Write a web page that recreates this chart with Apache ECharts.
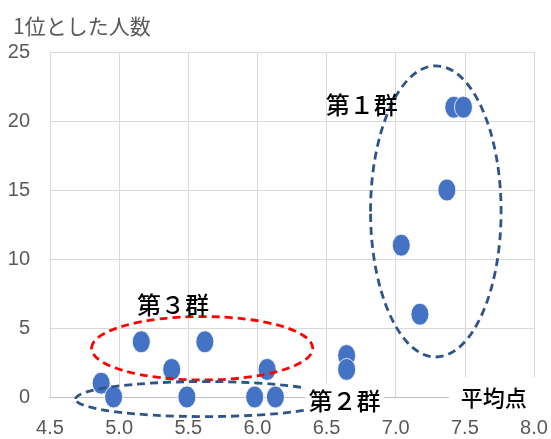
<!DOCTYPE html>
<html>
<head>
<meta charset="utf-8">
<script src="https://cdn.jsdelivr.net/npm/echarts@6/dist/echarts.min.js"></script>
<style>
  html, body { margin: 0; padding: 0; background: #fff; }
  #main { width: 551px; height: 439px; }
</style>
</head>
<body>
<div id="main"></div>
<script>
// 平均点 と 1位とした人数
var avgScores = [7.42, 7.49, 7.37, 7.04, 7.175, 6.645, 6.645, 4.87, 4.96, 5.16, 5.38, 5.49, 5.62, 5.98, 6.07, 6.13];
var firstCounts = [21, 21, 15, 11, 6, 3, 2, 1, 0, 4, 2, 0, 4, 0, 2, 0];

var xTicks = [4.5, 8.0, 0.5];   // min, max, interval
var yTicks = [0, 25, 5];

// 群の囲み (データ座標: 中心x, 中心y, 半径x, 半径y)
var groupRings = [
    {name: '第１群', cx: 7.29, cy: 13.45, rx: 0.472, ry: 10.55, color: '#2F5489', labelX: 6.755, labelY: 21.2},
    {name: '第３群', cx: 5.6, cy: 3.53, rx: 0.80, ry: 2.3, color: '#FF0000', labelX: 5.39, labelY: 6.7},
    {name: '第２群', cx: 5.62, cy: -0.15, rx: 0.935, ry: 1.27, color: '#2F5489', labelX: 6.63, labelY: -0.25}
];

var chart = echarts.init(document.getElementById('main'));

var option = {
    animation: false,
    backgroundColor: '#fff',
    title: {
        text: '1位とした人数',
        left: 8,
        top: 11,
        textStyle: {fontSize: 21, fontWeight: 'normal', color: '#595959', fontFamily: 'Noto Sans CJK JP'}
    },
    grid: {left: 50, right: 17, top: 52, bottom: 42},
    xAxis: {
        type: 'value',
        min: xTicks[0],
        max: xTicks[1],
        interval: xTicks[2],
        axisLine: {show: true, onZero: true, lineStyle: {color: '#bfbfbf', width: 1}},
        axisTick: {show: false},
        splitLine: {show: true, lineStyle: {color: '#d9d9d9', width: 1}},
        axisLabel: {
            margin: 21,
            fontSize: 20,
            color: '#595959',
            fontFamily: 'Liberation Sans',
            formatter: function (v) { return v.toFixed(1); }
        }
    },
    yAxis: {
        type: 'value',
        min: yTicks[0],
        max: yTicks[1],
        interval: yTicks[2],
        axisLine: {show: false},
        axisTick: {show: false},
        splitLine: {show: true, lineStyle: {color: '#d9d9d9', width: 1}},
        axisLabel: {margin: 20, fontSize: 20, color: '#595959', fontFamily: 'Liberation Sans'}
    },
    series: [{
        type: 'scatter',
        symbol: 'path://M50,0A50,50,0,1,1,50,100A50,50,0,1,1,50,0Z',
        symbolSize: [18, 22],
        itemStyle: {color: '#4472C4', borderColor: '#ffffff', borderWidth: 0.8, opacity: 1},
        data: avgScores.map(function (x, i) { return [x, firstCounts[i]]; })
    }]
};
chart.setOption(option);

function px(p) {
    return chart.convertToPixel({gridIndex: 0}, p);
}

var elements = [];
groupRings.forEach(function (g) {
    var c = px([g.cx, g.cy]);
    var ex = px([g.cx + g.rx, g.cy]);
    var ey = px([g.cx, g.cy + g.ry]);
    elements.push({
        type: 'ellipse',
        z: 10,
        shape: {cx: c[0], cy: c[1], rx: Math.abs(ex[0] - c[0]), ry: Math.abs(c[1] - ey[1])},
        style: {fill: 'none', stroke: g.color, lineWidth: 2.8, lineDash: [8, 5]}
    });
});
groupRings.forEach(function (g, i) {
    var p = px([g.labelX, g.labelY]);
    elements.push({
        type: 'text',
        z: 20,
        x: p[0],
        y: p[1],
        style: {
            text: g.name,
            fontSize: 24,
            fontWeight: 500,
            fontFamily: 'Noto Sans CJK JP',
            fill: '#000',
            align: 'center',
            verticalAlign: 'middle',
            backgroundColor: i === 2 ? '#fff' : null,
            padding: i === 2 ? [5, 3] : 0
        }
    });
});
var axisName = px([7.5, 0]);
elements.push({
    type: 'text',
    z: 20,
    x: axisName[0] + 29,
    y: axisName[1] + 1,
    style: {
        text: '平均点',
        fontSize: 22,
        fontWeight: 500,
        fontFamily: 'Noto Sans CJK JP',
        fill: '#000',
        align: 'center',
        verticalAlign: 'middle',
        backgroundColor: '#fff',
        padding: [10, 12]
    }
});

chart.setOption({graphic: {elements: elements}});
</script>
</body>
</html>
